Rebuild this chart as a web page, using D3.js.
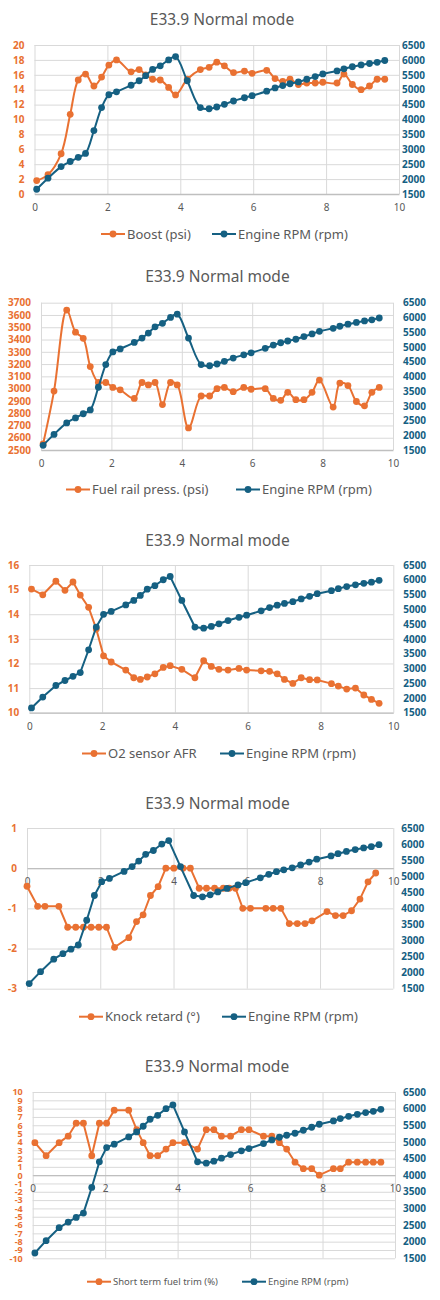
<!DOCTYPE html>
<html>
<head>
<meta charset="utf-8">
<script src="https://cdn.jsdelivr.net/npm/d3@7"></script>
<style>
  body { margin: 0; background: #fff; }
  svg { font-family: "Noto Sans", sans-serif; }
</style>
</head>
<body>
<svg id="charts" width="440" height="1300"></svg>
<script>
const orange = '#E97132'
const blue = '#156082'
const grey = '#595959'

// shared log timestamps (s)
const time = [0.06, 0.37, 0.73, 0.98, 1.2, 1.4, 1.63, 1.84, 2.04, 2.25, 2.65, 2.87, 3.05, 3.24, 3.45, 3.68, 3.87, 4.19, 4.55, 4.79,
  5.0, 5.21, 5.46, 5.76, 5.97, 6.37, 6.6, 6.81, 7.01, 7.24, 7.47, 7.7, 7.91, 8.3, 8.49, 8.72, 8.96, 9.19, 9.4, 9.61]

const rpm = [1660, 2030, 2420, 2590, 2730, 2860, 3630, 4400, 4830, 4930, 5150, 5300, 5470, 5680, 5800, 6000, 6110, 5300, 4400, 4360,
  4420, 4510, 4620, 4730, 4800, 4950, 5060, 5140, 5200, 5260, 5350, 5440, 5530, 5630, 5700, 5770, 5830, 5880, 5920, 5980]

const boost = [1.8, 2.6, 5.4, 10.7, 15.3, 16.1, 14.5, 15.7, 17.3, 18.0, 16.4, 16.7, 16.0, 15.4, 15.3, 14.3, 13.3, 15.4, 16.7, 17.0,
  17.7, 17.2, 16.3, 16.5, 16.2, 16.6, 15.5, 15.1, 15.4, 14.7, 14.9, 14.9, 15.0, 14.9, 16.1, 14.7, 14.0, 14.5, 15.4, 15.4]

const fuelRail = [2550, 2980, 3640, 3460, 3410, 3180, 3050, 3050, 3010, 2990, 2920, 3050, 3030, 3050, 2870, 3050, 3030, 2680, 2940, 2940,
  3000, 3010, 2975, 3010, 2995, 3000, 2920, 2905, 2970, 2910, 2910, 2970, 3070, 2850, 3045, 3025, 2895, 2860, 2970, 3010]

const afr = [15.02, 14.79, 15.34, 14.97, 15.31, 14.78, 14.28, 13.40, 12.31, 12.06, 11.73, 11.42, 11.35, 11.45, 11.58, 11.84, 11.91, 11.76, 11.42, 12.11,
  11.88, 11.76, 11.73, 11.80, 11.73, 11.70, 11.68, 11.58, 11.35, 11.19, 11.42, 11.34, 11.33, 11.18, 11.08, 10.96, 11.00, 10.72, 10.54, 10.38]

// knock retard was logged on its own timestamps
const knockTime = [0.0, 0.29, 0.49, 0.87, 1.11, 1.33, 1.54, 1.75, 1.96, 2.17, 2.39, 2.78, 2.99, 3.17, 3.37, 3.58, 3.79, 4.01, 4.26, 4.46,
  4.70, 4.90, 5.12, 5.36, 5.52, 5.69, 5.89, 6.10, 6.52, 6.72, 6.93, 7.16, 7.38, 7.59, 7.78, 8.19, 8.42, 8.63, 8.86, 9.09, 9.31, 9.52]
const knock = [-0.45, -0.95, -0.95, -0.95, -1.47, -1.47, -1.47, -1.47, -1.47, -1.47, -1.97, -1.73, -1.33, -1.16, -0.68, -0.46, 0, 0, 0, 0,
  -0.5, -0.5, -0.5, -0.5, -0.5, -0.5, -1.0, -1.0, -1.0, -1.0, -1.0, -1.38, -1.38, -1.38, -1.31, -1.08, -1.18, -1.18, -1.06, -0.77, -0.34, -0.12]

const stft = [3.91, 2.34, 3.91, 4.69, 6.25, 6.25, 2.34, 6.25, 6.25, 7.81, 7.81, 5.47, 3.91, 2.34, 2.34, 3.13, 3.91, 3.91, 3.13, 5.47,
  5.47, 4.69, 4.69, 5.47, 5.47, 4.69, 4.69, 3.91, 3.13, 1.56, 0.78, 0.78, 0, 0.78, 0.78, 1.56, 1.56, 1.56, 1.56, 1.56]

const timeTicks = [0, 2, 4, 6, 8, 10]
const rpmTicks = [1500, 2000, 2500, 3000, 3500, 4000, 4500, 5000, 5500, 6000, 6500]
const boostTicks = [0, 2, 4, 6, 8, 10, 12, 14, 16, 18, 20]
const fuelTicks = [2500, 2600, 2700, 2800, 2900, 3000, 3100, 3200, 3300, 3400, 3500, 3600, 3700]
const afrTicks = [10, 11, 12, 13, 14, 15, 16]
const knockTicks = [-3, -2, -1, 0, 1]
const stftTicks = [-10, -9, -8, -7, -6, -5, -4, -3, -2, -1, 0, 1, 2, 3, 4, 5, 6, 7, 8, 9, 10]

const title = 'E33.9 Normal mode'
const rpmLabel = 'Engine RPM (rpm)'

const panels = [
  { label: 'Boost (psi)', xs: time, ys: boost, ticks: boostTicks, smooth: true,
    titleX: 222, titleY: 25, left: 34.5, right: 399, top: 45, bottom: 194, rPad: 3,
    legY: 234, legX: [101, 212], legFont: 13, tickFont: 10 },
  { label: 'Fuel rail press. (psi)', xs: time, ys: fuelRail, ticks: fuelTicks, smooth: true,
    titleX: 217.5, titleY: 282, left: 41, right: 393, top: 302.7, bottom: 450, rPad: 10,
    legY: 489.5, legX: [66, 236], legFont: 13, tickFont: 10 },
  { label: 'O2 sensor AFR', xs: time, ys: afr, ticks: afrTicks, smooth: false,
    titleX: 217.5, titleY: 545.5, left: 29.3, right: 393.3, top: 565, bottom: 712.7, rPad: 10,
    legY: 753.5, legX: [82, 220], legFont: 13, tickFont: 10 },
  { label: 'Knock retard (°)', xs: knockTime, ys: knock, ticks: knockTicks, smooth: false,
    titleX: 217.5, titleY: 809, left: 27, right: 393.3, top: 828, bottom: 988.7, rPad: 8,
    legY: 1016.7, legX: [79, 222], legFont: 13, tickFont: 10 },
  { label: 'Short term fuel trim (%)', xs: time, ys: stft, ticks: stftTicks, smooth: false,
    titleX: 217, titleY: 1072.3, left: 32.7, right: 395, top: 1092, bottom: 1258.3, rPad: 8,
    legY: 1281.7, legX: [87, 242], legFont: 9.5, tickFont: 9 }
]

const svg = d3.select('#charts')
const plain = d => String(d).replace('\u2212', '-')

const drawPanel = (p) => {
  const g = svg.append('g')
  const w = p.right - p.left
  const h = p.bottom - p.top

  const x = d3.scaleLinear().domain([0, 10]).range([p.left, p.right])
  const y = d3.scaleLinear().domain(d3.extent(p.ticks)).range([p.bottom, p.top])
  const y2 = d3.scaleLinear().domain(d3.extent(rpmTicks)).range([p.bottom, p.top])

  g.append('text')
    .attr('x', p.titleX)
    .attr('y', p.titleY)
    .attr('text-anchor', 'middle')
    .attr('font-size', 15.5)
    .attr('fill', grey)
    .text(title)

  // gridlines
  g.append('g')
    .attr('transform', `translate(${p.left},0)`)
    .call(d3.axisLeft(y).tickValues(p.ticks).tickSize(-w).tickFormat(''))
    .call(a => a.select('.domain').remove())
    .selectAll('line').attr('stroke', '#d9d9d9')

  g.append('g')
    .attr('transform', `translate(0,${p.bottom})`)
    .call(d3.axisBottom(x).tickValues(timeTicks).tickSize(-h).tickFormat(''))
    .call(a => a.select('.domain').remove())
    .selectAll('line').attr('stroke', '#d9d9d9')

  // x axis sits where the left value is 0
  const yCross = y(Math.max(0, d3.min(p.ticks)))
  const xAxis = g.append('g')
    .attr('transform', `translate(0,${yCross})`)
    .call(d3.axisBottom(x).tickValues(timeTicks).tickSize(0).tickPadding(10).tickFormat(plain))
  xAxis.attr('font-family', null).attr('font-size', 10)
  xAxis.select('.domain').attr('stroke', '#bfbfbf').attr('stroke-width', 1.3)
  xAxis.selectAll('text').attr('fill', grey)

  const leftAxis = g.append('g')
    .attr('transform', `translate(${p.left},0)`)
    .call(d3.axisLeft(y).tickValues(p.ticks).tickSize(0).tickPadding(10).tickFormat(plain))
  leftAxis.attr('font-family', null).attr('font-size', p.tickFont).attr('font-weight', 'bold')
  leftAxis.select('.domain').remove()
  leftAxis.selectAll('text').attr('fill', orange)

  const rightAxis = g.append('g')
    .attr('transform', `translate(${p.right},0)`)
    .call(d3.axisRight(y2).tickValues(rpmTicks).tickSize(0).tickPadding(p.rPad).tickFormat(plain))
  rightAxis.attr('font-family', null).attr('font-size', 10).attr('font-weight', 'bold')
  rightAxis.select('.domain').remove()
  rightAxis.selectAll('text').attr('fill', blue)

  const series = [
    { pts: p.xs.map((t, i) => [t, p.ys[i]]), scale: y, color: orange, name: p.label },
    { pts: time.map((t, i) => [t, rpm[i]]), scale: y2, color: blue, name: rpmLabel }
  ]

  series.forEach(s => {
    const line = d3.line()
      .x(d => x(d[0]))
      .y(d => s.scale(d[1]))
      .curve(p.smooth ? d3.curveCatmullRom : d3.curveLinear)

    g.append('path')
      .attr('d', line(s.pts))
      .attr('fill', 'none')
      .attr('stroke', s.color)
      .attr('stroke-width', 2)

    g.append('g')
      .selectAll('circle')
      .data(s.pts)
      .join('circle')
      .attr('cx', d => x(d[0]))
      .attr('cy', d => s.scale(d[1]))
      .attr('r', 3.4)
      .attr('fill', s.color)
  })

  // legend
  series.forEach((s, i) => {
    const lx = p.legX[i]
    const item = g.append('g')
    item.append('line')
      .attr('x1', lx).attr('x2', lx + 24)
      .attr('y1', p.legY).attr('y2', p.legY)
      .attr('stroke', s.color)
      .attr('stroke-width', 2)
    item.append('circle')
      .attr('cx', lx + 12).attr('cy', p.legY)
      .attr('r', 3.4)
      .attr('fill', s.color)
    item.append('text')
      .attr('x', lx + 26)
      .attr('y', p.legY)
      .attr('dy', '0.35em')
      .attr('font-size', p.legFont)
      .attr('fill', grey)
      .text(s.name)
  })
}

panels.forEach(drawPanel)
</script>
</body>
</html>
